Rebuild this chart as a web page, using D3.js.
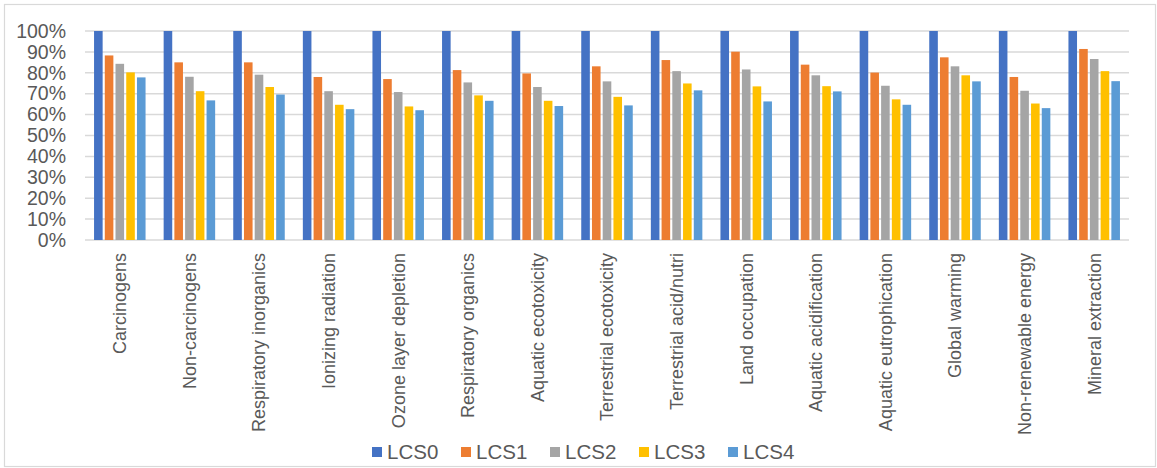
<!DOCTYPE html>
<html>
<head>
<meta charset="utf-8">
<script src="https://cdn.jsdelivr.net/npm/d3@7"></script>
<style>
  html, body { margin: 0; padding: 0; background: #fff; }
  svg { display: block; font-family: "Liberation Sans", Arial, sans-serif; }
</style>
</head>
<body>
<svg id="chart" width="1157" height="468"></svg>
<script>
// Impact categories along the x axis
const categories = [
  "Carcinogens", "Non-carcinogens", "Respiratory inorganics", "Ionizing radiation",
  "Ozone layer depletion", "Respiratory organics", "Aquatic ecotoxicity",
  "Terrestrial ecotoxicity", "Terrestrial acid/nutri", "Land occupation",
  "Aquatic acidification", "Aquatic eutrophication", "Global warming",
  "Non-renewable energy", "Mineral extraction"
];

// Series names and colours
const seriesNames = ["LCS0", "LCS1", "LCS2", "LCS3", "LCS4"];
const seriesColors = ["#4472c4", "#ed7d31", "#a5a5a5", "#ffc000", "#5b9bd5"];

// Relative impact per scenario (fraction of LCS0)
const LCS0 = [1, 1, 1, 1, 1, 1, 1, 1, 1, 1, 1, 1, 1, 1, 1];
const LCS1 = [0.883, 0.850, 0.850, 0.780, 0.770, 0.813, 0.797, 0.831, 0.861, 0.901, 0.839, 0.801, 0.874, 0.780, 0.914];
const LCS2 = [0.843, 0.781, 0.791, 0.712, 0.708, 0.754, 0.732, 0.759, 0.808, 0.816, 0.788, 0.738, 0.831, 0.714, 0.866];
const LCS3 = [0.802, 0.712, 0.732, 0.647, 0.639, 0.692, 0.666, 0.685, 0.749, 0.735, 0.736, 0.673, 0.788, 0.653, 0.808];
const LCS4 = [0.778, 0.668, 0.696, 0.626, 0.621, 0.666, 0.641, 0.644, 0.716, 0.663, 0.711, 0.647, 0.759, 0.631, 0.760];
const seriesValues = [LCS0, LCS1, LCS2, LCS3, LCS4];

// Y axis ticks
const yTicks = [0, 0.1, 0.2, 0.3, 0.4, 0.5, 0.6, 0.7, 0.8, 0.9, 1.0];

const svg = d3.select("#chart");

// Outer chart frame
svg.append("rect")
  .attr("x", 4.5).attr("y", 4.5)
  .attr("width", 1151).attr("height", 462)
  .attr("fill", "#fff")
  .attr("stroke", "#d9d9d9").attr("stroke-width", 1.2);

const plot = { left: 85, right: 1129, top: 31, bottom: 240 };

const x0 = d3.scaleBand()
  .domain(categories)
  .range([plot.left, plot.right])
  .paddingInner(0.26)
  .paddingOuter(0.13);

const x1 = d3.scaleBand()
  .domain(seriesNames)
  .range([0, x0.bandwidth()])
  .paddingInner(0.2)
  .paddingOuter(0);

const y = d3.scaleLinear()
  .domain([0, 1])
  .range([plot.bottom, plot.top]);

// Horizontal gridlines
svg.append("g")
  .selectAll("line")
  .data(yTicks)
  .join("line")
  .attr("x1", plot.left).attr("x2", plot.right)
  .attr("y1", d => y(d)).attr("y2", d => y(d))
  .attr("stroke", "#d9d9d9")
  .attr("stroke-width", 1.5);

// Y axis labels
const yAxis = d3.axisLeft(y)
  .tickValues(yTicks)
  .tickFormat(d3.format(".0%"))
  .tickSize(0)
  .tickPadding(0);

svg.append("g")
  .attr("transform", `translate(${plot.left - 19},0)`)
  .call(yAxis)
  .call(g => g.select(".domain").remove())
  .call(g => g.selectAll("text")
    .attr("fill", "#595959")
    .style("font-size", "19.5px")
    .style("font-family", "'Liberation Sans', Arial, sans-serif"));

// Bars
const groups = svg.append("g")
  .selectAll("g")
  .data(categories)
  .join("g")
  .attr("transform", d => `translate(${x0(d)},0)`);

groups.selectAll("rect")
  .data((c, i) => seriesNames.map((s, k) => ({ s, k, v: seriesValues[k][i] })))
  .join("rect")
  .attr("x", d => x1(d.s))
  .attr("width", x1.bandwidth())
  .attr("y", d => y(d.v))
  .attr("height", d => y(0) - y(d.v))
  .attr("fill", d => seriesColors[d.k]);

// Category labels, rotated
const xAxis = d3.axisBottom(x0).tickSize(0).tickPadding(0);
svg.append("g")
  .attr("transform", `translate(0,${plot.bottom})`)
  .call(xAxis)
  .call(g => g.select(".domain").remove())
  .call(g => g.selectAll("text")
    .attr("fill", "#595959")
    .style("font-size", "18px")
    .style("font-family", "'Liberation Sans', Arial, sans-serif")
    .attr("text-anchor", "end")
    .attr("dy", "0.35em")
    .attr("transform", "translate(0,13) rotate(-90)")
    .attr("x", 0).attr("y", 0));

// Legend
const legendX = d3.scaleBand()
  .domain(seriesNames)
  .range([372, 372 + 5 * 89]);

const legend = svg.append("g")
  .selectAll("g")
  .data(seriesNames)
  .join("g")
  .attr("transform", d => `translate(${legendX(d)},452)`);

legend.append("rect")
  .attr("x", 0).attr("y", -5)
  .attr("width", 10).attr("height", 10)
  .attr("fill", (d, i) => seriesColors[i]);

legend.append("text")
  .attr("x", 15).attr("y", 0)
  .attr("dy", "0.36em")
  .attr("fill", "#595959")
  .style("font-size", "20.5px")
  .text(d => d);
</script>
</body>
</html>
